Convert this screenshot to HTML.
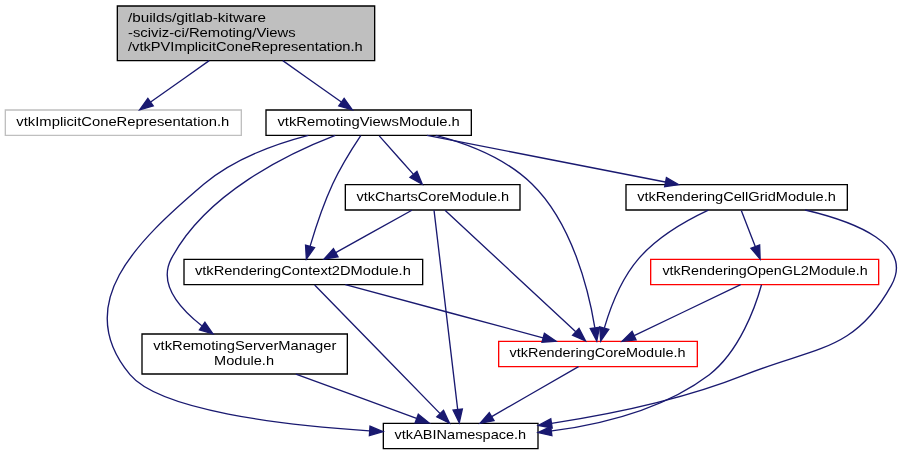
<!DOCTYPE html>
<html><head><meta charset="utf-8"><title>vtkPVImplicitConeRepresentation.h include dependency graph</title>
<style>
html,body{margin:0;padding:0;background:#fff;}
body{width:902px;height:455px;overflow:hidden;}
svg{display:block;will-change:transform;}
text{font-family:"Liberation Sans",sans-serif;font-size:10.2px;fill:#000;}
.e path{fill:none;stroke:#191970;}
.e polygon{fill:#191970;stroke:#191970;}
</style></head><body>
<svg width="902" height="455" viewBox="0 0 676.5 341.25">
<rect x="0" y="0" width="676.5" height="341.25" fill="#fff"/>
<g transform="translate(4 337)">
<g>
<polygon fill="#bfbfbf" stroke="black" points="84,-291.5 84,-332.5 277,-332.5 277,-291.5 84,-291.5"/>
<text x="92" y="-320.5" textLength="103.49" lengthAdjust="spacingAndGlyphs">/builds/gitlab-kitware</text>
<text x="92.02" y="-309.5" textLength="125.71" lengthAdjust="spacingAndGlyphs">-sciviz-ci/Remoting/Views</text>
<text x="92" y="-298.5" textLength="176.06" lengthAdjust="spacingAndGlyphs">/vtkPVImplicitConeRepresentation.h</text>
</g>
<g>
<polygon fill="white" stroke="#bfbfbf" points="0,-235.5 0,-254.5 177,-254.5 177,-235.5 0,-235.5"/>
<text x="8.26" y="-242.5" textLength="159.72" lengthAdjust="spacingAndGlyphs">vtkImplicitConeRepresentation.h</text>
</g>
<g class="e">
<path d="M152.9,-291.5C138.79,-281.53 121.92,-269.61 108.99,-260.48"/>
<polygon points="110.93,-257.56 100.75,-254.65 106.89,-263.28 110.93,-257.56"/>
</g>
<g>
<polygon fill="white" stroke="black" points="195.5,-235.5 195.5,-254.5 349.5,-254.5 349.5,-235.5 195.5,-235.5"/>
<text x="204.08" y="-242.5" textLength="136.81" lengthAdjust="spacingAndGlyphs">vtkRemotingViewsModule.h</text>
</g>
<g class="e">
<path d="M208.1,-291.5C222.21,-281.53 239.08,-269.61 252.01,-260.48"/>
<polygon points="254.11,-263.28 260.25,-254.65 250.07,-257.56 254.11,-263.28"/>
</g>
<g>
<polygon fill="white" stroke="black" points="283.5,-0.5 283.5,-19.5 399.5,-19.5 399.5,-0.5 283.5,-0.5"/>
<text x="291.93" y="-7.5" textLength="98.73" lengthAdjust="spacingAndGlyphs">vtkABINamespace.h</text>
</g>
<g class="e">
<path d="M227.23,-235.47C201.92,-228.86 171.27,-217.6 149,-199 97.39,-155.14 49.65,-108.52 93.5,-56 115.99,-29.06 207.68,-18.21 273.01,-13.87"/>
<polygon points="273.49,-17.34 283.25,-13.22 273.05,-10.36 273.49,-17.34"/>
</g>
<g>
<polygon fill="white" stroke="black" points="102.5,-56.5 102.5,-86.5 256.5,-86.5 256.5,-56.5 102.5,-56.5"/>
<text x="110.92" y="-74.5" textLength="137.33" lengthAdjust="spacingAndGlyphs">vtkRemotingServerManager</text>
<text x="156.58" y="-63.5" textLength="44.92" lengthAdjust="spacingAndGlyphs">Module.h</text>
</g>
<g class="e">
<path d="M247.44,-235.45C212.5,-222 150.51,-192.24 124.5,-143 114.78,-124.6 130.32,-106.14 147.34,-92.72"/>
<polygon points="149.72,-95.31 155.7,-86.57 145.57,-89.67 149.72,-95.31"/>
</g>
<g>
<polygon fill="white" stroke="red" points="370,-62 370,-81 519,-81 519,-62 370,-62"/>
<text x="378.15" y="-69" textLength="131.98" lengthAdjust="spacingAndGlyphs">vtkRenderingCoreModule.h</text>
</g>
<g class="e">
<path d="M322.86,-235.48C347.38,-229.08 375.54,-218 395,-199 425.46,-169.23 437.6,-118.67 442.12,-91.35"/>
<polygon points="445.62,-91.59 443.58,-81.2 438.69,-90.6 445.62,-91.59"/>
</g>
<g>
<polygon fill="white" stroke="black" points="134,-123.5 134,-142.5 313,-142.5 313,-123.5 134,-123.5"/>
<text x="142.18" y="-130.5" textLength="161.97" lengthAdjust="spacingAndGlyphs">vtkRenderingContext2DModule.h</text>
</g>
<g class="e">
<path d="M266.54,-235.34C260.64,-226.5 251.62,-212.23 245.5,-199 238.46,-183.8 232.52,-165.68 228.59,-152.44"/>
<polygon points="231.9,-151.29 225.78,-142.64 225.17,-153.22 231.9,-151.29"/>
</g>
<g>
<polygon fill="white" stroke="black" points="255,-179.5 255,-198.5 386,-198.5 386,-179.5 255,-179.5"/>
<text x="263.33" y="-186.5" textLength="114.51" lengthAdjust="spacingAndGlyphs">vtkChartsCoreModule.h</text>
</g>
<g class="e">
<path d="M280.43,-235.08C287.35,-227.3 297.57,-215.8 305.95,-206.37"/>
<polygon points="308.69,-208.55 312.72,-198.75 303.46,-203.9 308.69,-208.55"/>
</g>
<g>
<polygon fill="white" stroke="black" points="465.5,-179.5 465.5,-198.5 631.5,-198.5 631.5,-179.5 465.5,-179.5"/>
<text x="473.87" y="-186.5" textLength="149.06" lengthAdjust="spacingAndGlyphs">vtkRenderingCellGridModule.h</text>
</g>
<g class="e">
<path d="M316.23,-235.44C364.68,-225.96 442.83,-210.67 494.92,-200.48"/>
<polygon points="495.83,-203.87 504.97,-198.52 494.49,-197 495.83,-203.87"/>
</g>
<g class="e">
<path d="M217.89,-56.4C245.44,-46.28 282.17,-32.79 308.42,-23.15"/>
<polygon points="309.75,-26.39 317.93,-19.66 307.33,-19.82 309.75,-26.39"/>
</g>
<g class="e">
<path d="M429.89,-61.98C412.82,-52.21 384.83,-36.08 364.78,-24.58"/>
<polygon points="366.49,-21.52 356.09,-19.51 362.96,-27.57 366.49,-21.52"/>
</g>
<g class="e">
<path d="M231.99,-123.3C251.72,-103.07 300.91,-52.62 326.1,-26.79"/>
<polygon points="328.61,-29.23 333.09,-19.62 323.6,-24.34 328.61,-29.23"/>
</g>
<g class="e">
<path d="M255.02,-123.48C294.07,-113 360.19,-95.21 403.24,-83.66"/>
<polygon points="404.3,-87 413.04,-81.01 402.47,-80.24 404.3,-87"/>
</g>
<g class="e">
<path d="M321.51,-179.46C324.72,-152.43 334.71,-68.24 339.23,-30.11"/>
<polygon points="342.75,-30.21 340.45,-19.87 335.79,-29.39 342.75,-30.21"/>
</g>
<g class="e">
<path d="M329.74,-179.32C350.73,-159.92 401.22,-112.83 427.82,-88.16"/>
<polygon points="430.25,-90.68 435.15,-81.28 425.46,-85.58 430.25,-90.68"/>
</g>
<g class="e">
<path d="M304.92,-179.32C289.5,-170.74 265.69,-157.49 247.79,-147.52"/>
<polygon points="249.49,-144.46 239.05,-142.65 246.08,-150.58 249.49,-144.46"/>
</g>
<g class="e">
<path d="M599.85,-179.49C638.12,-170.49 681.52,-153.29 664.5,-123 636.66,-73.09 608.1,-77.13 555,-56 508.21,-37.31 452.6,-26.01 409.67,-19.48"/>
<polygon points="410.14,-16.01 399.72,-17.95 409.08,-22.93 410.14,-16.01"/>
</g>
<g class="e">
<path d="M527.27,-179.36C511.17,-171.83 489.29,-159.51 475,-143 461.98,-127.95 453.78,-106.4 449.28,-91.09"/>
<polygon points="452.58,-89.92 446.51,-81.23 445.84,-91.81 452.58,-89.92"/>
</g>
<g>
<polygon fill="white" stroke="red" points="484,-123.5 484,-142.5 655,-142.5 655,-123.5 484,-123.5"/>
<text x="492.85" y="-130.5" textLength="153.89" lengthAdjust="spacingAndGlyphs">vtkRenderingOpenGL2Module.h</text>
</g>
<g class="e">
<path d="M551.97,-179.08C554.81,-171.77 558.93,-161.18 562.46,-152.1"/>
<polygon points="565.73,-153.34 566.1,-142.75 559.21,-150.8 565.73,-153.34"/>
</g>
<g class="e">
<path d="M567.13,-123.42C562.8,-107.53 550.72,-73.55 528,-56 494.12,-30.37 448.01,-18.89 409.93,-13.78"/>
<polygon points="409.91,-10.25 399.56,-12.54 409.08,-17.2 409.91,-10.25"/>
</g>
<g class="e">
<path d="M551.45,-123.48C530.63,-113.49 495.73,-96.85 471.62,-85.31"/>
<polygon points="473.06,-82.11 462.52,-81.01 470.07,-88.44 473.06,-82.11"/>
</g>
</g>
</svg>
</body></html>
